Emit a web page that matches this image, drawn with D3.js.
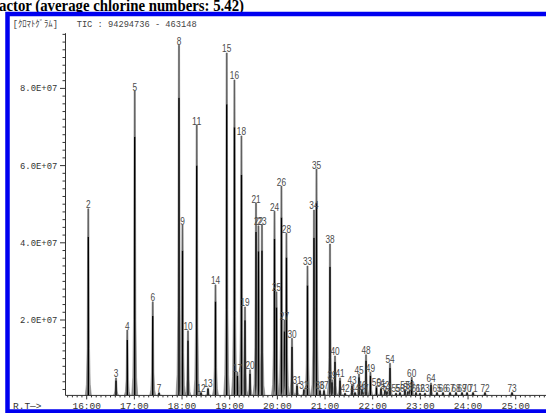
<!DOCTYPE html>
<html><head><meta charset="utf-8">
<script src="https://cdn.jsdelivr.net/npm/d3@7"></script>
<style>body{margin:0;background:#fff}svg{display:block}</style>
</head><body><svg id="c" width="546" height="413"></svg>
<script>
// ---- data ----
const titleText = "actor (average chlorine numbers: 5.42)";
const headerLabel = "[ｸﾛﾏﾄｸﾞﾗﾑ]";
const headerTic = "TIC : 94294736 - 463148";
const ticMax = 94294736;
const ticMin = 463148;
const peakLabels = ["2","3","4","5","6","7","8","9","10","11","12","13","14","15","16","17","18","19","20","21","22","23","24","25","26","27","28","30","31","32","33","34","35","36","37","38","39","40","41","42","43","44","45","46","47","48","49","50","51","52","53","54","55","56","57","58","59","60","61","62","63","64","65","66","67","68","69","70","71","72","73"];
// retention time, minutes
const retentionTimes = [16.034,16.615,16.852,17.007,17.385,17.517,17.936,18.010,18.125,18.308,18.398,18.545,18.702,18.937,19.100,19.163,19.247,19.321,19.426,19.552,19.604,19.677,19.940,19.982,20.086,20.149,20.191,20.307,20.412,20.558,20.632,20.768,20.821,20.894,20.978,21.104,21.146,21.209,21.314,21.419,21.566,21.629,21.713,21.776,21.818,21.860,21.953,22.079,22.174,22.258,22.300,22.363,22.489,22.572,22.677,22.740,22.782,22.818,22.908,22.992,23.097,23.223,23.349,23.475,23.622,23.748,23.874,23.979,24.105,24.356,24.923];
// intensity, units of 1e7 counts
const intensities = [4.88,0.50,1.74,7.93,2.47,0.12,9.12,4.46,1.72,7.05,0.13,0.24,2.91,8.92,8.22,0.65,6.77,2.34,0.71,5.03,4.44,4.46,4.82,2.73,5.47,2.00,4.25,1.53,0.34,0.21,3.40,4.85,5.91,0.19,0.19,3.97,0.45,1.07,0.50,0.11,0.34,0.13,0.60,0.21,0.13,1.10,0.65,0.29,0.24,0.19,0.16,0.88,0.11,0.13,0.21,0.16,0.19,0.52,0.13,0.11,0.11,0.37,0.13,0.13,0.13,0.13,0.13,0.13,0.13,0.13,0.13];
const xTickValues = [16,17,18,19,20,21,22,23,24,25];
const xTickLabels = ["16:00","17:00","18:00","19:00","20:00","21:00","22:00","23:00","24:00","25:00"];
const yTickValues = [2e7,4e7,6e7,8e7];
const yTickLabels = ["2.0E+07","4.0E+07","6.0E+07","8.0E+07"];

const svg = d3.select("#c");
const W = 546, H = 413;

const x = d3.scaleLinear().domain([16,25]).range([86.7,515.7]);
const y = d3.scaleLinear().domain([0,ticMax]).range([397.2, 397.2 - ticMax/1e7*38.6]);
const axisX = 65.5;
const baseY = y(ticMin);

// title (clipped at top, as in the reference)
svg.append("text").attr("x",-1).attr("y",10.5)
  .attr("font-family","'Liberation Serif', 'Times New Roman', serif")
  .attr("font-weight","bold").attr("font-size",17)
  .attr("textLength",245).attr("lengthAdjust","spacingAndGlyphs")
  .attr("fill","#000").text(titleText);

// blue frame
svg.append("rect").attr("x",7.5).attr("y",14).attr("width",620).attr("height",397.5)
  .attr("fill","none").attr("stroke","#0000f0").attr("stroke-width",4.5);

const mono = "'Liberation Mono', 'DejaVu Sans Mono', 'Noto Sans CJK JP', monospace";

// header
svg.append("text").attr("x",12.7).attr("y",27).attr("font-family",mono)
  .attr("font-size",8.7).attr("fill","#444").text(headerLabel);
svg.append("text").attr("x",76.7).attr("y",27).attr("font-family",mono)
  .attr("font-size",8.7).attr("fill","#444")
  .attr("textLength",120).attr("lengthAdjust","spacingAndGlyphs").text(headerTic);

// peaks
const peaks = peakLabels.map((l,i)=>({label:l,t:retentionTimes[i],h:intensities[i]*1e7}));
const fr = [0,0.06,0.25,1];
const hw = [3,1.9,1.2,0.6];
const line = d3.line().x(d=>d[0]).y(d=>d[1]);
const gP = svg.append("g");
peaks.forEach(p=>{
  const cx = x(p.t);
  const pts = [];
  fr.forEach((f,k)=>pts.push([cx-hw[k], baseY + (y(p.h)-baseY)*f]));
  for(let k=fr.length-1;k>=0;k--) pts.push([cx+hw[k], baseY + (y(p.h)-baseY)*fr[k]]);
  gP.append("path").attr("d",line(pts)+"Z").attr("fill","#949494").attr("stroke","#6e6e6e").attr("stroke-width",0.5);
  gP.append("line").attr("x1",cx).attr("x2",cx).attr("y1",baseY).attr("y2",baseY+(y(p.h)-baseY)*0.85)
    .attr("stroke","#000").attr("stroke-width",1.4);
  gP.append("line").attr("x1",cx).attr("x2",cx).attr("y1",baseY+(y(p.h)-baseY)*0.85).attr("y2",y(p.h))
    .attr("stroke","#606060").attr("stroke-width",1.1);
});

// peak labels
svg.append("g").selectAll("text").data(peaks).join("text")
  .attr("x",d=>x(d.t)).attr("y",d=>y(d.h)-0.5)
  .attr("text-anchor","middle")
  .attr("font-family","'Liberation Sans', Arial, sans-serif")
  .attr("font-size",10.5).attr("fill","#4a4a4a")
  .attr("textLength",d=>d.label.length*4.6).attr("lengthAdjust","spacingAndGlyphs")
  .text(d=>d.label);

// y axis
const gy = svg.append("g").attr("stroke","#333").attr("stroke-width",1);
gy.append("line").attr("x1",axisX).attr("x2",axisX).attr("y1",baseY).attr("y2",y(ticMax));
d3.range(2e6, ticMax, 2e6).forEach(v=>{
  const major = Math.abs(v % 2e7) < 1;
  gy.append("line").attr("x1",axisX-(major?5.5:3)).attr("x2",axisX).attr("y1",y(v)).attr("y2",y(v));
});
svg.append("g").selectAll("text").data(yTickValues).join("text")
  .attr("x",57.3).attr("y",d=>y(d)+3).attr("text-anchor","end")
  .attr("font-family",mono).attr("font-size",8.9).attr("fill","#333")
  .text((d,i)=>yTickLabels[i]);

// x axis
const gx = svg.append("g").attr("stroke","#333").attr("stroke-width",1);
gx.append("line").attr("x1",axisX).attr("x2",W).attr("y1",baseY).attr("y2",baseY);
const tMin = x.invert(axisX), tMax = x.invert(W);
d3.range(Math.ceil(tMin*10), Math.floor(tMax*10)+1).forEach(k=>{
  const major = k % 10 === 0;
  gx.append("line").attr("x1",x(k/10)).attr("x2",x(k/10)).attr("y1",baseY).attr("y2",baseY+(major?4:2));
});
svg.append("g").selectAll("text").data(xTickValues).join("text")
  .attr("x",d=>x(d)).attr("y",409.3).attr("text-anchor","middle")
  .attr("font-family",mono).attr("font-size",9.5).attr("fill","#333")
  .text((d,i)=>xTickLabels[i]);
svg.append("text").attr("x",13).attr("y",409.3).attr("font-family",mono)
  .attr("font-size",9.5).attr("fill","#333").text("R.T—>");
</script></body></html>
